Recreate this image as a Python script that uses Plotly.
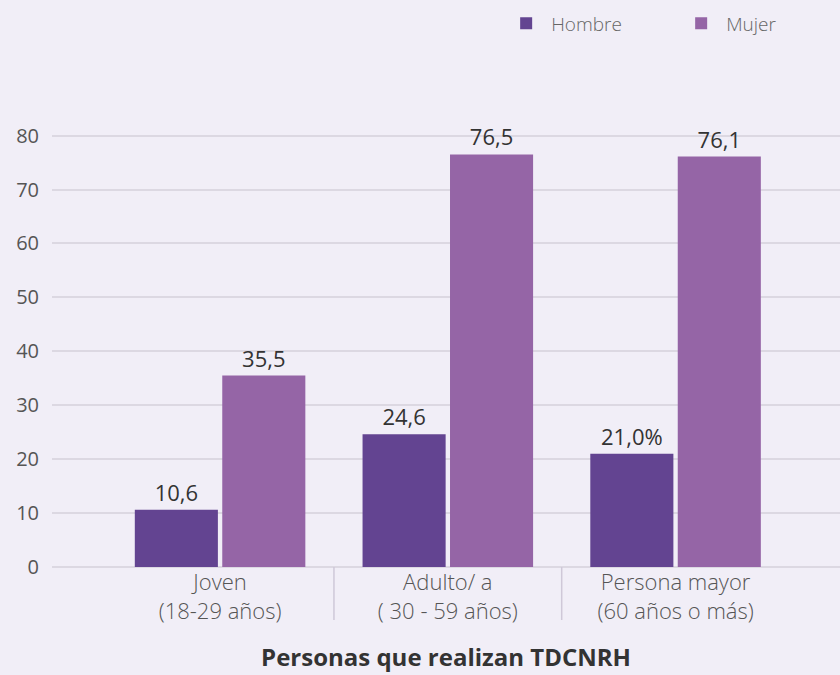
import plotly.graph_objects as go

categories = ["Joven<br>(18-29 años)", "Adulto/ a<br>( 30 - 59 años)", "Persona mayor<br>(60 años o más)"]
hombre = [10.6, 24.6, 21.0]
mujer = [35.5, 76.5, 76.1]
hombre_labels = ["10,6", "24,6", "21,0%"]
mujer_labels = ["35,5", "76,5", "76,1"]
y_ticks = [0, 10, 20, 30, 40, 50, 60, 70, 80]

BG = "#F1EEF7"
FONT = "Open Sans"

fig = go.Figure()
fig.add_trace(go.Bar(name="Hombre", x=categories, y=hombre, text=hombre_labels,
                     textposition="outside", marker_color="#634491", marker_line_width=0,
                     constraintext="none", cliponaxis=False,
                     textfont=dict(family=FONT, size=22, color="#333333")))
fig.add_trace(go.Bar(name="Mujer", x=categories, y=mujer, text=mujer_labels,
                     textposition="outside", marker_color="#9565A6", marker_line_width=0,
                     constraintext="none", cliponaxis=False,
                     textfont=dict(family=FONT, size=22, color="#333333")))

# category dividers below the axis, at category boundaries
for b in [0.5, 1.5]:
    fig.add_shape(type="line", xref="x", yref="paper", x0=b, x1=b, y0=0, y1=-0.117,
                  line=dict(color="#CFC8D8", width=1.5))

fig.update_layout(
    width=840, height=675,
    margin=dict(l=52, r=0, t=114, b=108, autoexpand=False),
    paper_bgcolor=BG, plot_bgcolor=BG,
    barmode="group", bargap=0.232, bargroupgap=0.05,
    font=dict(family=FONT, color="#555555"),
    showlegend=True,
    legend=dict(orientation="h", x=0.57, xanchor="left", y=1.2, yanchor="middle",
                font=dict(family=FONT, size=19, color="#666666", weight=300),
                entrywidth=120, itemwidth=40, bgcolor="rgba(0,0,0,0)"),
    xaxis=dict(type="category", range=[-0.738, 2.722], showgrid=False, zeroline=False,
               showline=False, ticks="",
               tickfont=dict(family=FONT, size=22, color="#555555", weight=300),
               title=dict(text="Personas que realizan TDCNRH",
                          font=dict(family=FONT, size=24, color="#333333", weight=700),
                          standoff=25)),
    yaxis=dict(range=[0, 84], tickvals=y_ticks, showgrid=True, gridcolor="#DCD8E2",
               gridwidth=2, zeroline=True, zerolinecolor="#DCD8E2", zerolinewidth=2,
               showline=False, ticks="", ticklabelstandoff=12,
               tickfont=dict(family=FONT, size=20, color="#555555")),
)

fig.write_html("out.html", config={"displayModeBar": False},
               post_script="document.body.style.margin='0';document.body.style.overflow='hidden';")
